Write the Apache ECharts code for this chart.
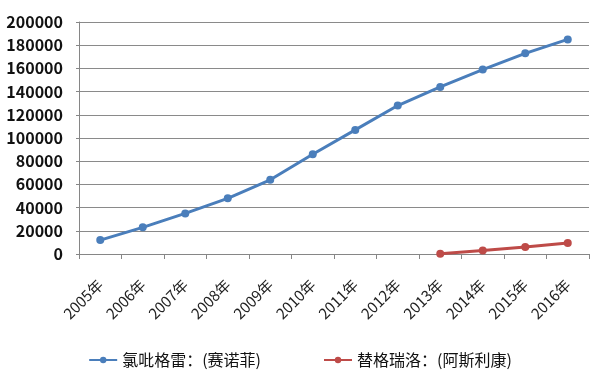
<!DOCTYPE html>
<html>
<head>
<meta charset="utf-8">
<script src="https://cdn.jsdelivr.net/npm/echarts@6/dist/echarts.min.js"></script>
<style>
  html, body { margin: 0; padding: 0; background: #fff; }
  #main { width: 600px; height: 376px; }
</style>
</head>
<body>
<div id="main"></div>
<script>
  var years = ['2005年', '2006年', '2007年', '2008年', '2009年', '2010年',
    '2011年', '2012年', '2013年', '2014年', '2015年', '2016年']
  var clopidogrel = [12000, 23000, 35000, 48000, 64000, 86000, 107000, 128000, 144000, 159000, 173000, 185000]
  var ticagrelor = [null, null, null, null, null, null, null, null, 300, 3000, 6000, 9500]
  var names = ['氯吡格雷：(赛诺菲)', '替格瑞洛：(阿斯利康)']

  var chart = echarts.init(document.getElementById('main'))
  chart.setOption({
    animation: false,
    textStyle: { fontFamily: '"Noto Sans CJK SC", sans-serif' },
    grid: { left: 79, right: 11, top: 22, bottom: 122 },
    legend: {
      bottom: 3,
      left: 'center',
      itemGap: 62,
      itemWidth: 28,
      itemHeight: 8,
      textStyle: { fontSize: 16, color: '#111' },
      data: names
    },
    xAxis: {
      type: 'category',
      data: years,
      boundaryGap: true,
      axisLine: { lineStyle: { color: '#868686' } },
      axisTick: { show: true, length: 5, lineStyle: { color: '#868686' } },
      axisLabel: { rotate: 45, fontSize: 15, color: '#222', margin: 28, interval: 0 }
    },
    yAxis: {
      type: 'value',
      min: 0,
      max: 200000,
      interval: 20000,
      axisLine: { show: true, lineStyle: { color: '#868686' } },
      axisTick: { show: true, length: 3, lineStyle: { color: '#868686' } },
      splitLine: { lineStyle: { color: '#8a8a8a', width: 1 } },
      axisLabel: {
        fontSize: 16,
        fontWeight: 'bold',
        color: '#111',
        margin: 16,
        formatter: function (v) { return String(v) }
      }
    },
    series: [{
      name: names[0],
      type: 'line',
      data: clopidogrel,
      symbol: 'circle',
      symbolSize: 8,
      lineStyle: { color: '#4a7ebb', width: 3 },
      itemStyle: { color: '#4a7ebb' }
    }, {
      name: names[1],
      type: 'line',
      data: ticagrelor,
      symbol: 'circle',
      symbolSize: 8,
      lineStyle: { color: '#be4b48', width: 3 },
      itemStyle: { color: '#be4b48' }
    }]
  })
</script>
</body>
</html>
